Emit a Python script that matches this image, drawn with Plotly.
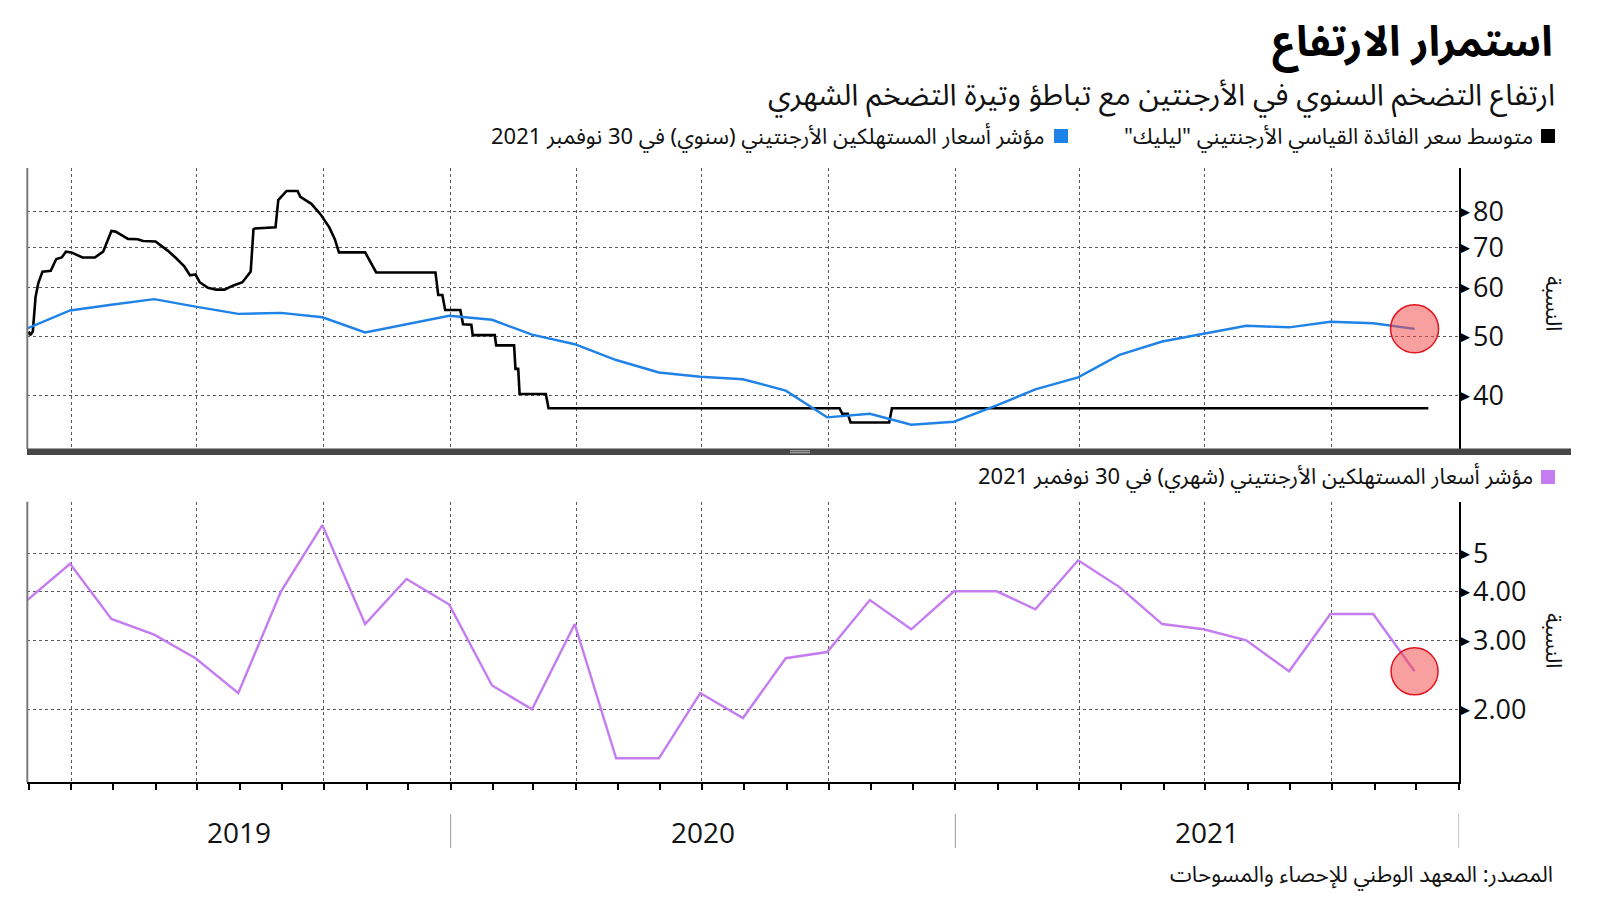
import plotly.graph_objects as go
import pandas as pd
import math

W, H = 1600, 901

# ---------------- data ----------------
cpi_dates = [
    "2019-02-28", "2019-03-31", "2019-04-30", "2019-05-31", "2019-06-30", "2019-07-31",
    "2019-08-31", "2019-09-30", "2019-10-31", "2019-11-30", "2019-12-31",
    "2020-01-31", "2020-02-29", "2020-03-31", "2020-04-30", "2020-05-31", "2020-06-30",
    "2020-07-31", "2020-08-31", "2020-09-30", "2020-10-31", "2020-11-30", "2020-12-31",
    "2021-01-31", "2021-02-28", "2021-03-31", "2021-04-30", "2021-05-31", "2021-06-30",
    "2021-07-31", "2021-08-31", "2021-09-30", "2021-10-31", "2021-11-30",
]
cpi_annual = [
    51.5, 55.1, 56.3, 57.5, 55.9, 54.4, 54.6, 53.7, 50.7, 52.3, 54.0,
    53.2, 50.3, 48.5, 45.7, 43.6, 42.9, 42.5, 40.7, 36.8, 37.3, 35.8, 36.2,
    38.5, 40.9, 42.8, 46.6, 49.0, 50.4, 52.0, 51.7, 52.8, 52.5, 51.4,
]
cpi_monthly = [
    3.8, 4.7, 3.4, 3.1, 2.7, 2.2, 4.0, 5.9, 3.3, 4.3, 3.7,
    2.3, 2.0, 3.3, 1.5, 1.5, 2.2, 1.9, 2.7, 2.8, 3.8, 3.2, 4.0,
    4.0, 3.6, 4.8, 4.1, 3.3, 3.2, 3.0, 2.5, 3.5, 3.5, 2.5,
]
leliq_dates = [
    "2019-03-01", "2019-03-02", "2019-03-04", "2019-03-06", "2019-03-08", "2019-03-11",
    "2019-03-17", "2019-03-21", "2019-03-25", "2019-03-28", "2019-04-01", "2019-04-09",
    "2019-04-18", "2019-04-24", "2019-04-30", "2019-05-03", "2019-05-08", "2019-05-12",
    "2019-05-19", "2019-05-23", "2019-06-01", "2019-06-10", "2019-06-16", "2019-06-22",
    "2019-06-26", "2019-06-30", "2019-07-03", "2019-07-09", "2019-07-15", "2019-07-21",
    "2019-07-27", "2019-08-03", "2019-08-09", "2019-08-11", "2019-08-12", "2019-08-27",
    "2019-08-29", "2019-09-04", "2019-09-12", "2019-09-14", "2019-09-22", "2019-09-29",
    "2019-10-05", "2019-10-09", "2019-10-12", "2019-10-31", "2019-11-08", "2019-12-21",
    "2019-12-23", "2019-12-26", "2019-12-28", "2020-01-08", "2020-01-10", "2020-01-16",
    "2020-01-17", "2020-02-02", "2020-02-03", "2020-02-16", "2020-02-17", "2020-02-19",
    "2020-02-20", "2020-03-10", "2020-03-12", "2020-10-09", "2020-10-11", "2020-10-15",
    "2020-10-17", "2020-11-14", "2020-11-16", "2021-12-10",
]
leliq_values = [
    50.9, 50.2, 50.9, 58.0, 61.1, 63.8,
    64.0, 66.9, 67.3, 68.8, 68.6, 67.3,
    67.3, 68.8, 74.4, 74.2, 73.1, 72.2,
    72.1, 71.6, 71.5, 69.0, 67.1, 65.0,
    62.9, 63.1, 61.3, 60.0, 59.6, 59.6,
    60.5, 61.3, 63.8, 74.8, 75.1, 75.4,
    83.6, 86.5, 86.5, 84.6, 82.4, 79.0,
    75.4, 72.1, 68.6, 68.6, 63.6, 63.6,
    58.4, 58.4, 55.2, 55.2, 52.3, 52.2,
    50.2, 50.2, 48.3, 48.3, 44.2, 44.2,
    40.2, 40.2, 38.1, 38.1, 37.3, 37.3,
    36.1, 36.1, 38.1, 38.1,
]

upper_tickvals = [40, 50, 60, 70, 80]
upper_ticktext = ["40", "50", "60", "70", "80"]
lower_tickvals = [2, 3, 4, 5]
lower_ticktext = ["2.00", "3.00", "4.00", "5"]
year_labels = ["2019", "2020", "2021"]
year_bounds = ["2019-02-28", "2020-01-01", "2021-01-01", "2022-01-01"]

RLM = "\u200f"
title = "استمرار الارتفاع"
subtitle = "ارتفاع التضخم السنوي في الأرجنتين مع تباطؤ وتيرة التضخم الشهري"
leg_leliq = RLM + "متوسط سعر الفائدة القياسي الأرجنتيني \"ليليك\"" + RLM
leg_annual = RLM + "مؤشر أسعار المستهلكين الأرجنتيني (سنوي) في 30 نوفمبر 2021" + RLM
leg_monthly = RLM + "مؤشر أسعار المستهلكين الأرجنتيني (شهري) في 30 نوفمبر 2021" + RLM
y_title = "النسبة"
source = RLM + "المصدر: المعهد الوطني للإحصاء والمسوحات" + RLM

# ---------------- styles ----------------
AR_FONT = "Noto Sans Arabic, DejaVu Sans, sans-serif"
NUM_FONT = "Open Sans, sans-serif"
BLACK = "#000000"
BLUE = "#1f82e6"
PURPLE = "#c57cf0"
GRID = "#5a5a5a"


def px(xp):
    return xp / W


def py(yp):
    return 1 - yp / H


x_left, x_right = 27.3, 1458.7
up_top, up_bot = 168, 449
lo_top, lo_bot = 501.7, 782
x_range = [year_bounds[0], year_bounds[-1]]

fig = go.Figure()

fig.add_trace(go.Scatter(x=leliq_dates, y=leliq_values, mode="lines",
                         line=dict(color=BLACK, width=2.6), xaxis="x", yaxis="y",
                         showlegend=False, hoverinfo="skip"))
fig.add_trace(go.Scatter(x=cpi_dates, y=cpi_annual, mode="lines",
                         line=dict(color=BLUE, width=2.4), xaxis="x", yaxis="y",
                         showlegend=False, hoverinfo="skip"))
fig.add_trace(go.Scatter(x=cpi_dates[-1:], y=cpi_annual[-1:], mode="markers",
                         marker=dict(size=48, color="rgba(242,70,70,0.52)",
                                     line=dict(color="#e0141e", width=1.5)),
                         xaxis="x", yaxis="y", showlegend=False, hoverinfo="skip",
                         cliponaxis=False))
fig.add_trace(go.Scatter(x=cpi_dates, y=cpi_monthly, mode="lines",
                         line=dict(color=PURPLE, width=2.4), xaxis="x2", yaxis="y2",
                         showlegend=False, hoverinfo="skip"))
fig.add_trace(go.Scatter(x=cpi_dates[-1:], y=cpi_monthly[-1:], mode="markers",
                         marker=dict(size=47, color="rgba(242,70,70,0.52)",
                                     line=dict(color="#e0141e", width=1.5)),
                         xaxis="x2", yaxis="y2", showlegend=False, hoverinfo="skip",
                         cliponaxis=False))

xcommon = dict(type="date", range=x_range, domain=[px(x_left), px(x_right)],
               showgrid=True, gridcolor=GRID, gridwidth=1, griddash="dot",
               dtick="M3", tick0="2019-04-01", showticklabels=False, zeroline=False)

fig.update_layout(
    width=W, height=H,
    margin=dict(l=0, r=0, t=0, b=0),
    paper_bgcolor="white", plot_bgcolor="white",
    showlegend=False,
    xaxis=dict(**xcommon, anchor="y", ticks="", showline=False),
    yaxis=dict(type="log", range=[1.5140, 1.9747], domain=[py(up_bot), py(up_top)],
               side="right", anchor="x", tickvals=upper_tickvals, ticktext=upper_ticktext,
               tickfont=dict(family=NUM_FONT, size=27, color="#111"),
               showgrid=True, gridcolor=GRID, gridwidth=1, griddash="dot",
               showline=True, linecolor=BLACK, linewidth=2, ticks="",
               ticklabelstandoff=7, zeroline=False),
    xaxis2=dict(**xcommon, anchor="y2", showline=True, linecolor=BLACK, linewidth=2,
                ticks="outside", ticklen=6, tickwidth=2, tickcolor=BLACK,
                minor=dict(dtick="M1", tick0="2019-03-01", ticks="outside", ticklen=6,
                           tickwidth=2, tickcolor=BLACK, showgrid=False)),
    yaxis2=dict(type="log", range=[0.1156, 0.8306], domain=[py(lo_bot), py(lo_top)],
                side="right", anchor="x2", tickvals=lower_tickvals, ticktext=lower_ticktext,
                tickfont=dict(family=NUM_FONT, size=27, color="#111"),
                showgrid=True, gridcolor=GRID, gridwidth=1, griddash="dot",
                showline=True, linecolor=BLACK, linewidth=2, ticks="",
                ticklabelstandoff=7, zeroline=False),
)

shapes = []
# left grey axis lines
for t, b in [(up_top, up_bot), (lo_top, lo_bot)]:
    shapes.append(dict(type="line", xref="paper", yref="paper", x0=px(x_left), x1=px(x_left),
                       y0=py(b), y1=py(t), line=dict(color="#7a7a7a", width=2)))
# panel divider bar
shapes.append(dict(type="rect", xref="paper", yref="paper", x0=px(27), x1=px(1571),
                   y0=py(455), y1=py(448.5), fillcolor="#474747", line=dict(width=0)))
for yy in (450.8, 452.8):
    shapes.append(dict(type="line", xref="paper", yref="paper", x0=px(790), x1=px(810),
                       y0=py(yy), y1=py(yy), line=dict(color="#bdbdbd", width=1)))
# year separators
for d in year_bounds[1:]:
    shapes.append(dict(type="line", xref="x2", yref="paper", x0=d, x1=d,
                       y0=py(848), y1=py(814), line=dict(color="#9a9a9a", width=1)))
# legend squares
for (cx, cy, col) in [(1548, 136, BLACK), (1061, 136, BLUE), (1548, 477, PURPLE)]:
    shapes.append(dict(type="rect", xref="paper", yref="paper", x0=px(cx - 7), x1=px(cx + 7),
                       y0=py(cy + 7), y1=py(cy - 7), fillcolor=col, line=dict(width=0)))
fig.update_layout(shapes=shapes)

ann = []
ann.append(dict(text="<b>" + title + "</b>", x=px(1555), y=py(43), xref="paper", yref="paper",
                xanchor="right", yanchor="middle", showarrow=False,
                font=dict(family=AR_FONT, size=42, color="#000")))
ann.append(dict(text=subtitle, x=px(1557), y=py(95), xref="paper", yref="paper",
                xanchor="right", yanchor="middle", showarrow=False,
                font=dict(family=AR_FONT, size=30, color="#111")))
ann.append(dict(text=leg_leliq, x=px(1535), y=py(137), xref="paper", yref="paper",
                xanchor="right", yanchor="middle", showarrow=False,
                font=dict(family=AR_FONT, size=22, color="#111")))
ann.append(dict(text=leg_annual, x=px(1046), y=py(137), xref="paper", yref="paper",
                xanchor="right", yanchor="middle", showarrow=False,
                font=dict(family=AR_FONT, size=22, color="#111")))
ann.append(dict(text=leg_monthly, x=px(1535), y=py(477), xref="paper", yref="paper",
                xanchor="right", yanchor="middle", showarrow=False,
                font=dict(family=AR_FONT, size=22, color="#111")))
for yc in (303, 640):
    ann.append(dict(text=y_title, x=px(1553), y=py(yc), xref="paper", yref="paper",
                    xanchor="center", yanchor="middle", textangle=90, showarrow=False,
                    font=dict(family=AR_FONT, size=22, color="#111")))
ann.append(dict(text=source, x=px(1555), y=py(875), xref="paper", yref="paper",
                xanchor="right", yanchor="middle", showarrow=False,
                font=dict(family=AR_FONT, size=22, color="#111")))
# year labels centred on visible year spans
for i, lab in enumerate(year_labels):
    a = pd.Timestamp(year_bounds[i])
    b = pd.Timestamp(year_bounds[i + 1])
    mid = a + (b - a) / 2
    ann.append(dict(text=lab, x=mid.strftime("%Y-%m-%d %H:%M"), y=py(832), xref="x2", yref="paper",
                    xanchor="center", yanchor="middle", showarrow=False,
                    font=dict(family=NUM_FONT, size=28, color="#111")))
# tick triangles
for v in upper_tickvals:
    ann.append(dict(text="▶", x=px(x_right), y=math.log10(v), xref="paper", yref="y",
                    xanchor="left", yanchor="middle", showarrow=False, xshift=-1,
                    font=dict(family="DejaVu Sans", size=13, color="#000")))
for v in lower_tickvals:
    ann.append(dict(text="▶", x=px(x_right), y=math.log10(v), xref="paper", yref="y2",
                    xanchor="left", yanchor="middle", showarrow=False, xshift=-1,
                    font=dict(family="DejaVu Sans", size=13, color="#000")))
fig.update_layout(annotations=ann)

fig.write_html("out.html", config={"displayModeBar": False},
               post_script="document.body.style.margin='0';document.body.style.padding='0';")
